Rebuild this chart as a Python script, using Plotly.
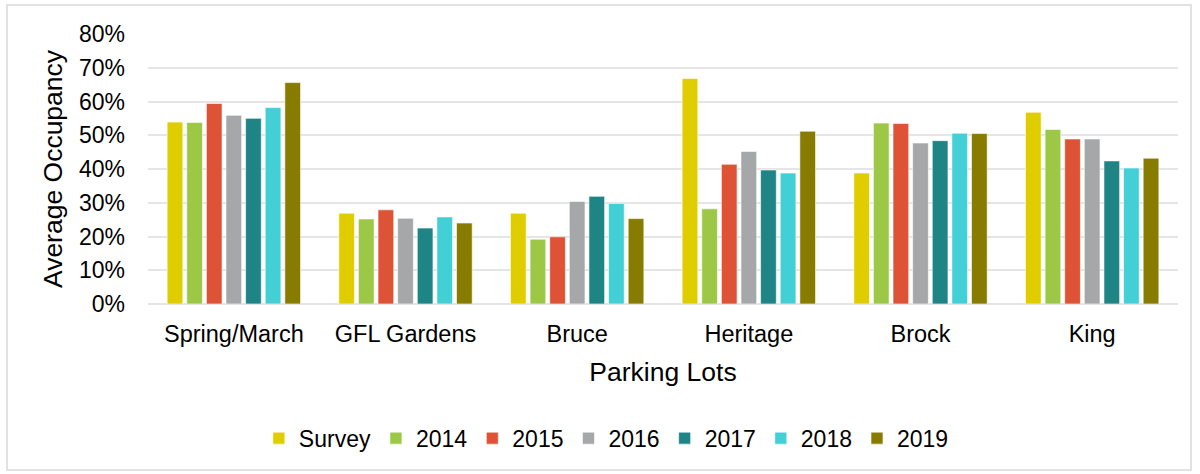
import plotly.graph_objects as go

categories = ["Spring/March", "GFL Gardens", "Bruce", "Heritage", "Brock", "King"]
series_names = ["Survey", "2014", "2015", "2016", "2017", "2018", "2019"]
survey = [0.539, 0.269, 0.269, 0.668, 0.388, 0.568]
y2014 = [0.538, 0.252, 0.192, 0.282, 0.536, 0.517]
y2015 = [0.594, 0.279, 0.199, 0.414, 0.535, 0.489]
y2016 = [0.559, 0.254, 0.304, 0.452, 0.477, 0.489]
y2017 = [0.550, 0.225, 0.319, 0.397, 0.484, 0.424]
y2018 = [0.582, 0.258, 0.298, 0.388, 0.506, 0.403]
y2019 = [0.656, 0.240, 0.253, 0.512, 0.505, 0.432]
values = [survey, y2014, y2015, y2016, y2017, y2018, y2019]
colors = ["#E0CD00", "#9CC846", "#DE5236", "#A6A7A9", "#1E8486", "#42CFD5", "#887C00"]
y_ticks = [0, 0.1, 0.2, 0.3, 0.4, 0.5, 0.6, 0.7, 0.8]
y_tick_labels = ["0%", "10%", "20%", "30%", "40%", "50%", "60%", "70%", "80%"]

FONT = "Liberation Sans, Arial, sans-serif"

fig = go.Figure()
for name, vals, col in zip(series_names, values, colors):
    fig.add_trace(go.Bar(
        x=categories, y=vals, name=name,
        marker=dict(color=col, line=dict(color="rgba(255,255,255,0.6)", width=1)),
    ))

fig.update_layout(
    width=1200, height=474,
    barmode="group", bargap=0.2, bargroupgap=0.2,
    paper_bgcolor="white", plot_bgcolor="white",
    margin=dict(l=148, r=22, t=34, b=170, autoexpand=False),
    font=dict(family=FONT, size=23, color="#000000"),
    xaxis=dict(
        title=dict(text="Parking Lots", font=dict(size=26.5), standoff=16),
        showgrid=False, showline=False, ticks="",
        ticklabelstandoff=13,
        tickfont=dict(size=23.5),
    ),
    yaxis=dict(
        title=dict(text="Average Occupancy", font=dict(size=26.5), standoff=8),
        range=[0, 0.8], tickvals=y_ticks, ticktext=y_tick_labels,
        showgrid=True, gridcolor="#E5E5E5", gridwidth=2,
        zeroline=True, zerolinecolor="#E5E5E5", zerolinewidth=2,
        showline=False, ticks="", ticklabelstandoff=22,
        tickfont=dict(size=23),
    ),
    legend=dict(
        orientation="h", x=0.445, xanchor="center", y=-0.497, yanchor="middle",
        font=dict(size=23), itemwidth=30, traceorder="normal",
    ),
    shapes=[dict(
        type="rect", xref="paper", yref="paper",
        x0=(7 - 148) / 1030, x1=(1191 - 148) / 1030,
        y0=(304 - 470) / 270, y1=(304 - 5) / 270,
        line=dict(color="#D9D9D9", width=1.5), fillcolor="rgba(0,0,0,0)", layer="below",
    )],
)

fig.write_html("out.html", config={"displayModeBar": False},
               post_script="document.body.style.margin='0';")
